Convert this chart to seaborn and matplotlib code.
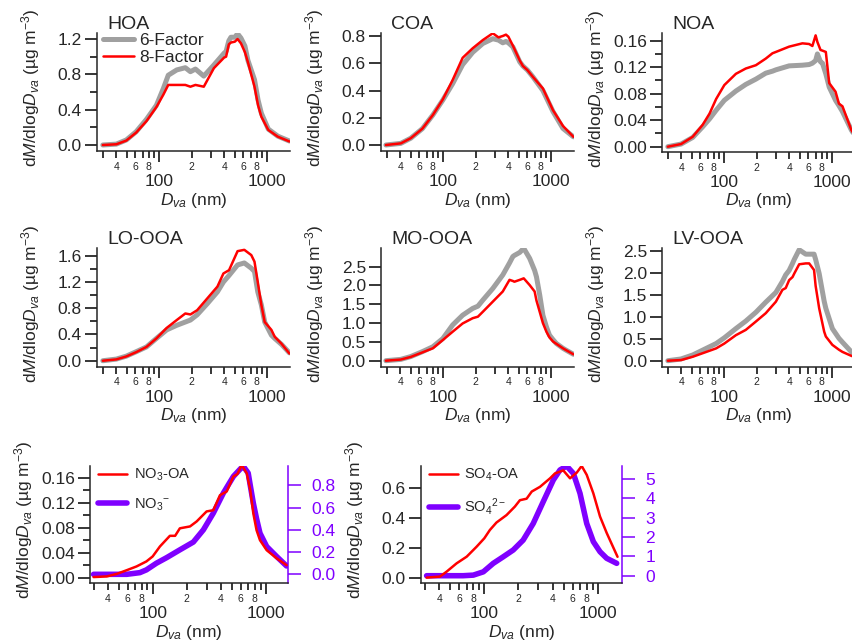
import numpy as np
import matplotlib
matplotlib.use("Agg")
import matplotlib.pyplot as plt
import seaborn as sns
from matplotlib.ticker import FixedLocator, FuncFormatter, MultipleLocator, NullLocator, FormatStrFormatter

# ---------------- data ----------------
hoa_dva = [30, 40, 49.5, 61, 76, 94, 109, 121, 145, 174, 194, 216, 258, 320, 398, 415, 440, 460,
           500, 530, 570, 620, 660, 760, 820, 880, 1020, 1250, 1600]
hoa_6f = [0, 0.01, 0.057, 0.15, 0.29, 0.45, 0.64, 0.79, 0.85, 0.875, 0.83, 0.86, 0.78, 0.906, 1.04,
          1.06, 1.18, 1.22, 1.22, 1.26, 1.21, 1.12, 0.96, 0.74, 0.51, 0.36, 0.18, 0.10, 0.045]
hoa_8f = [0, 0.008, 0.05, 0.14, 0.27, 0.43, 0.57, 0.68, 0.68, 0.68, 0.66, 0.68, 0.66, 0.87, 0.99,
          1.0, 1.14, 1.16, 1.17, 1.2, 1.15, 1.05, 0.94, 0.66, 0.45, 0.32, 0.17, 0.094, 0.04]

coa_dva = [29.4, 40.4, 50, 64, 80, 99, 122, 151, 187, 232, 287, 324, 355, 380, 400, 440, 510,
           545, 600, 675, 835, 1036, 1280, 1600]
coa_6f = [0, 0.012, 0.05, 0.12, 0.22, 0.33, 0.45, 0.59, 0.68, 0.745, 0.78, 0.77, 0.75, 0.76, 0.75,
          0.72, 0.61, 0.58, 0.55, 0.50, 0.40, 0.245, 0.122, 0.06]
coa_8f = [0, 0.012, 0.05, 0.12, 0.22, 0.335, 0.477, 0.64, 0.71, 0.77, 0.82, 0.79, 0.80, 0.81, 0.795,
          0.73, 0.62, 0.58, 0.55, 0.50, 0.415, 0.255, 0.14, 0.06]

noa_dva = [30, 39.8, 51, 63, 73, 84, 100, 128, 158, 196, 242, 279, 300, 398, 528, 609, 653, 700,
           727, 777, 810, 870, 935, 1070, 1150, 1240, 1500, 1600]
noa_6f = [0, 0.004, 0.014, 0.03, 0.042, 0.055, 0.07, 0.084, 0.094, 0.102, 0.111, 0.114, 0.116,
          0.122, 0.123, 0.124, 0.126, 0.13, 0.14, 0.128, 0.126, 0.11, 0.09, 0.070, 0.062, 0.053,
          0.025, 0.018]
noa_8f = [0, 0.004, 0.015, 0.033, 0.05, 0.072, 0.093, 0.11, 0.118, 0.123, 0.133, 0.141, 0.143,
          0.151, 0.156, 0.155, 0.152, 0.168, 0.158, 0.146, 0.145, 0.143, 0.096, 0.083, 0.065,
          0.061, 0.025, 0.018]

lo_dva = [30, 40, 49.5, 61, 76, 94, 117, 145, 174, 194, 224, 278, 345, 392, 442, 530, 612, 710,
          760, 815, 880, 945, 1090, 1170, 1350, 1600]
lo_6f = [0, 0.025, 0.07, 0.137, 0.21, 0.34, 0.47, 0.54, 0.59, 0.62, 0.70, 0.87, 1.05, 1.2, 1.3,
         1.46, 1.49, 1.41, 1.36, 1.05, 0.85, 0.59, 0.39, 0.34, 0.25, 0.12]
lo_8f = [0, 0.02, 0.065, 0.13, 0.21, 0.34, 0.50, 0.62, 0.72, 0.705, 0.77, 0.95, 1.13, 1.33, 1.38,
         1.67, 1.69, 1.61, 1.51, 1.2, 0.85, 0.59, 0.47, 0.365, 0.26, 0.11]

mo_dva = [29.4, 40.4, 50, 64, 80, 99, 122, 151, 187, 209, 232, 287, 355, 410, 440, 455, 510, 555,
          630, 700, 728, 780, 835, 900, 960, 1036, 1110, 1280, 1370, 1600]
mo_6f = [0, 0.035, 0.11, 0.24, 0.37, 0.59, 0.95, 1.21, 1.39, 1.45, 1.61, 1.92, 2.28, 2.6, 2.77,
         2.8, 2.88, 2.99, 2.72, 2.4, 2.23, 1.75, 1.21, 0.9, 0.68, 0.56, 0.46, 0.33, 0.28, 0.17]
mo_8f = [0, 0.03, 0.1, 0.22, 0.33, 0.55, 0.77, 0.99, 1.13, 1.17, 1.30, 1.57, 1.84, 2.15, 2.12,
         2.10, 2.15, 2.19, 2.01, 1.84, 1.6, 1.30, 1.0, 0.77, 0.62, 0.51, 0.45, 0.33, 0.28, 0.17]

lv_dva = [30, 39.8, 51, 63, 84, 100, 128, 158, 196, 242, 300, 345, 370, 398, 428, 444, 493, 567,
          610, 677, 700, 755, 840, 870, 1000, 1150, 1240, 1500, 1600]
lv_6f = [0, 0.04, 0.13, 0.24, 0.39, 0.52, 0.73, 0.90, 1.10, 1.33, 1.55, 1.8, 1.95, 2.05, 2.21,
         2.3, 2.52, 2.42, 2.42, 2.42, 2.3, 1.98, 1.35, 1.19, 0.73, 0.51, 0.42, 0.20, 0.16]
lv_8f = [0, 0.015, 0.09, 0.17, 0.28, 0.39, 0.58, 0.70, 0.89, 1.08, 1.34, 1.61, 1.65, 1.83, 1.9,
         1.98, 2.19, 2.21, 2.21, 2.06, 1.7, 1.19, 0.66, 0.55, 0.36, 0.25, 0.20, 0.11, 0.09]

no3oa_dva = [30, 39.3, 48, 59, 72, 88, 100, 116, 142, 158, 174, 214, 245, 300, 344, 394, 452, 518,
             562, 614, 680, 730, 777, 830, 890, 1020, 1250, 1530]
no3oa = [0.001, 0.002, 0.006, 0.012, 0.018, 0.026, 0.034, 0.050, 0.067, 0.067, 0.079, 0.082,
         0.090, 0.106, 0.108, 0.132, 0.138, 0.162, 0.166, 0.180, 0.167, 0.14, 0.103, 0.076, 0.060,
         0.044, 0.031, 0.020]
no3_dva = [30, 59, 77, 88, 108, 133, 174, 229, 281, 344, 422, 518, 600, 635, 700, 730, 777, 830,
           890, 1020, 1250, 1530]
no3 = [0.0, 0.0, 0.015, 0.04, 0.10, 0.15, 0.22, 0.29, 0.40, 0.55, 0.73, 0.88, 0.95, 0.97, 0.91,
       0.80, 0.64, 0.50, 0.37, 0.25, 0.16, 0.075]

so4oa_dva = [31, 40.6, 46.5, 57, 70, 85.6, 100, 112, 128, 157, 186, 206, 236, 262, 310, 380, 420,
             497, 570, 653, 722, 800, 915, 1048, 1200, 1495]
so4oa = [0, 0.007, 0.04, 0.096, 0.141, 0.208, 0.264, 0.32, 0.37, 0.42, 0.477, 0.52, 0.53, 0.578,
         0.61, 0.667, 0.70, 0.72, 0.667, 0.705, 0.75, 0.69, 0.566, 0.41, 0.30, 0.14]
so4_dva = [31, 65, 80, 98, 120, 147, 180, 220, 270, 331, 406, 465, 533, 610, 698, 800, 915, 1048,
           1200, 1470]
so4 = [0, 0, 0.03, 0.2, 0.64, 0.98, 1.33, 1.84, 2.7, 3.83, 4.95, 5.47, 5.67, 5.29, 4.26, 2.7,
       1.76, 1.24, 0.90, 0.64]

titles = ["HOA", "COA", "NOA", "LO-OOA", "MO-OOA", "LV-OOA"]
legend_6f8f = ["6-Factor", "8-Factor"]
legend_no3 = ["NO$_3$-OA", r"NO$_3$$^{\mathregular{-}}$"]
legend_so4 = ["SO$_4$-OA", r"SO$_4$$^{\mathregular{2-}}$"]
x_major = [100, 1000]
x_minor = [30, 40, 50, 60, 70, 80, 90, 200, 300, 400, 500, 600, 700, 800, 900, 2000]
x_minor_labels = {40: "4", 60: "6", 80: "8", 200: "2", 400: "4", 600: "6", 800: "8"}

# ---------------- style ----------------
sns.set_style("ticks")
plt.rcParams["font.family"] = ["Liberation Sans", "DejaVu Sans"]
plt.rcParams["mathtext.fontset"] = "custom"
plt.rcParams["mathtext.rm"] = "Liberation Sans"
plt.rcParams["mathtext.it"] = "Liberation Sans:italic"
plt.rcParams["mathtext.bf"] = "Liberation Sans:bold"
plt.rcParams["mathtext.sf"] = "Liberation Sans"
plt.rcParams["axes.linewidth"] = 1.1

GRAY = "#A0A0A0"
RED = "#FF0000"
PURPLE = "#7F00FF"
YLABEL = r"d$\mathit{M}$/dlog$\mathit{D}_{\mathit{va}}$ (µg m$^{\mathregular{-3}}$)"
XLABEL = r"$\mathit{D}_{\mathit{va}}$ (nm)"

TICK_FS = 12.5
W, H = 852, 644
fig = plt.figure(figsize=(W / 100, H / 100), dpi=100)


def add_ax(l, t, r, b):
    return fig.add_axes([l / W, 1 - b / H, (r - l) / W, (b - t) / H])


def style_ax(ax, l, t, r, b, xlim, ylim, ymaj, ymin, yfmt):
    wpx, hpx = r - l, b - t
    ax.set_xscale("log")
    ax.set_xlim(*xlim)
    ax.set_ylim(*ylim)
    ax.xaxis.set_major_locator(FixedLocator(x_major))
    ax.xaxis.set_minor_locator(FixedLocator(x_minor))
    ax.xaxis.set_major_formatter(FuncFormatter(lambda v, p: f"{int(round(v))}"))
    ax.xaxis.set_minor_formatter(FuncFormatter(lambda v, p: x_minor_labels.get(int(round(v)), "")))
    ax.tick_params(axis="x", which="major", direction="out", length=8, width=1.1, pad=8.6,
                   labelsize=12.5, color="black")
    ax.tick_params(axis="x", which="minor", direction="out", length=5, width=1.1, pad=2.6,
                   labelsize=7.5, color="black")
    ax.yaxis.set_major_locator(MultipleLocator(ymaj))
    if ymin:
        ax.yaxis.set_minor_locator(MultipleLocator(ymin))
    else:
        ax.yaxis.set_minor_locator(NullLocator())
    ax.yaxis.set_major_formatter(FormatStrFormatter(yfmt))
    ax.tick_params(axis="y", which="major", direction="out", length=8.6, width=1.1, pad=2.2,
                   labelsize=TICK_FS, color="black")
    ax.tick_params(axis="y", which="minor", direction="out", length=5, width=1.1, color="black")
    for s in ["top", "right"]:
        ax.spines[s].set_visible(False)
    ax.set_ylabel(YLABEL, fontsize=12.5, va="center")
    ax.yaxis.set_label_coords(-66 / wpx, 0.5 + 4 / hpx)
    ax.set_xlabel(XLABEL, fontsize=12.5, va="center")
    ax.xaxis.set_label_coords(0.5, -49 / hpx)
    ax.grid(False)


def title(ax, txt):
    ax.annotate(txt, xy=(0, 1), xycoords="axes fraction", xytext=(7.2, 3.0),
                textcoords="offset points", fontsize=14, ha="left", va="baseline")


XL = (26.5, 1620)
top_panels = [
    # (l, t, r, b, x, y6, y8, ylim, ymaj, ymin, fmt)
    (97, 33, 290, 151, hoa_dva, hoa_6f, hoa_8f, (-0.068, 1.268), 0.4, 0.2, "%.1f"),
    (381, 33, 574, 151, coa_dva, coa_6f, coa_8f, (-0.044, 0.822), 0.2, None, "%.1f"),
    (662, 33, 855, 152, noa_dva, noa_6f, noa_8f, (-0.008, 0.1716), 0.04, 0.02, "%.2f"),
    (97, 248, 290, 366.7, lo_dva, lo_6f, lo_8f, (-0.091, 1.718), 0.4, 0.2, "%.1f"),
    (381, 248, 574, 366.7, mo_dva, mo_6f, mo_8f, (-0.16, 2.997), 0.5, None, "%.1f"),
    (662, 248, 855, 366.7, lv_dva, lv_6f, lv_8f, (-0.136, 2.56), 0.5, None, "%.1f"),
]

for i, (l, t, r, b, xd, y6, y8, yl, ymaj, ymin, fmt) in enumerate(top_panels):
    ax = add_ax(l, t, r, b)
    lab6 = legend_6f8f[0] if i == 0 else None
    lab8 = legend_6f8f[1] if i == 0 else None
    sns.lineplot(x=np.array(xd), y=np.array(y6), ax=ax, color=GRAY, linewidth=3.6, label=lab6)
    sns.lineplot(x=np.array(xd), y=np.array(y8), ax=ax, color=RED, linewidth=1.8, label=lab8)
    style_ax(ax, l, t, r, b, XL, yl, ymaj, ymin, fmt)
    title(ax, titles[i])
    if i == 0:
        ax.legend(loc="upper left", bbox_to_anchor=(6 / 193, 1.0), borderaxespad=0, borderpad=0,
                  handlelength=1.8, handletextpad=0.28, labelspacing=0.12, frameon=False,
                  fontsize=12.5)
    elif ax.get_legend() is not None:
        ax.get_legend().remove()

bottom_panels = [
    # (l, t, r, b, xlim, red x, red y, purple x, purple y, ylimL, ylimR, majL, minL, fmtL, majR, fmtR, labels)
    (90, 465.5, 288, 583, (27.9, 1575), no3oa_dva, no3oa, no3_dva, no3, (-0.0085, 0.1795),
     (-0.078, 0.978), 0.04, 0.02, "%.2f", 0.2, "%.1f", legend_no3),
    (420.7, 465.5, 621.7, 583, (27.5, 1627), so4oa_dva, so4oa, so4_dva, so4, (-0.036, 0.753),
     (-0.377, 5.70), 0.2, None, "%.1f", 1, "%d", legend_so4),
]

for (l, t, r, b, xl, rx, ry, px, py, ylL, ylR, majL, minL, fmtL, majR, fmtR, labs) in bottom_panels:
    ax = add_ax(l, t, r, b)
    ax2 = ax.twinx()
    sns.lineplot(x=np.array(px), y=np.array(py), ax=ax2, color=PURPLE, linewidth=4.0, label=labs[1])
    sns.lineplot(x=np.array(rx), y=np.array(ry), ax=ax, color=RED, linewidth=1.8, label=labs[0])
    style_ax(ax, l, t, r, b, xl, ylL, majL, minL, fmtL)
    ax2.set_ylim(*ylR)
    ax2.yaxis.set_major_locator(MultipleLocator(majR))
    ax2.yaxis.set_minor_locator(NullLocator())
    ax2.yaxis.set_major_formatter(FormatStrFormatter(fmtR))
    ax2.tick_params(axis="y", which="major", direction="out", length=9.5, width=1.1, pad=7.5,
                    labelsize=TICK_FS, colors=PURPLE)
    for s in ["top", "left", "bottom"]:
        ax2.spines[s].set_visible(False)
    ax2.spines["right"].set_color(PURPLE)
    ax2.spines["right"].set_linewidth(1.1)
    ax2.set_ylabel("")
    ax2.grid(False)
    if ax2.get_legend() is not None:
        ax2.get_legend().remove()
    ax.set_zorder(ax2.get_zorder() + 1)
    ax.patch.set_visible(False)
    h1, l1 = ax.get_legend_handles_labels()
    h2, l2 = ax2.get_legend_handles_labels()
    wpx = r - l
    ax.legend(h1 + h2, l1 + l2, loc="upper left", bbox_to_anchor=(8 / wpx, 0.99), borderaxespad=0,
              borderpad=0, handlelength=2.0, handletextpad=0.45, labelspacing=0.9, frameon=False,
              fontsize=10.5)

fig.savefig("out.png", dpi=100)
